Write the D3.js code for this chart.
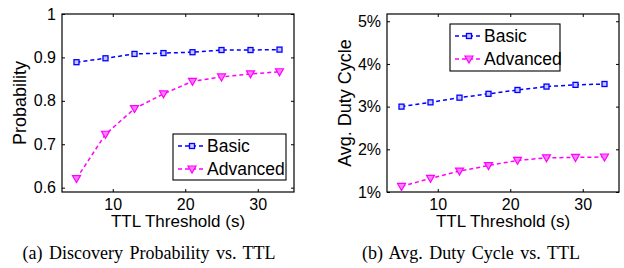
<!DOCTYPE html>
<html>
<head>
<meta charset="utf-8">
<script src="https://cdn.jsdelivr.net/npm/d3@7"></script>
<style>
  body { margin: 0; background: #fff; }
  svg text { font-family: "Liberation Sans", Arial, sans-serif; fill: #000; }
  .caption { font-family: "Liberation Serif", "Times New Roman", serif; word-spacing: 2px; }
</style>
</head>
<body>
<svg width="624" height="268"></svg>
<script>
// TTL thresholds (s)
const ttl = [5, 9, 13, 17, 21, 25, 29, 33];

// (a) discovery probability
const probBasic = [0.889, 0.898, 0.908, 0.910, 0.912, 0.917, 0.917, 0.918];
const probAdvanced = [0.621, 0.723, 0.782, 0.816, 0.845, 0.855, 0.862, 0.867];

// (b) avg duty cycle (%)
const dutyBasic = [3.00, 3.10, 3.21, 3.30, 3.39, 3.47, 3.51, 3.53];
const dutyAdvanced = [1.13, 1.32, 1.49, 1.62, 1.74, 1.80, 1.81, 1.82];

const xTicks = [10, 20, 30];
const probTicks = [0.6, 0.7, 0.8, 0.9, 1];
const dutyTicks = [1, 2, 3, 4, 5];
const seriesNames = ['Basic', 'Advanced'];

const svg = d3.select('svg');

const panels = [
  {
    left: 62, right: 294, top: 14, bottom: 192,
    yDomain: [0.59, 1.0], yTicks: probTicks, yFmt: d => d === 1 ? '1' : d3.format('.1f')(d),
    yLabel: 'Probability', yLabelX: 20,
    series: [probBasic, probAdvanced],
    legend: {x: 173, y: 134, w: 113, h: 46},
    caption: '(a) Discovery Probability vs. TTL', capX: 149
  },
  {
    left: 387, right: 619, top: 14, bottom: 192,
    yDomain: [1, 5.17], yTicks: dutyTicks, yFmt: d => d + '%',
    yLabel: 'Avg. Duty Cycle', yLabelX: 345,
    series: [dutyBasic, dutyAdvanced],
    legend: {x: 450, y: 24, w: 110, h: 47},
    caption: '(b) Avg. Duty Cycle vs. TTL', capX: 471
  }
];

const colors = ['#0000ff', '#ff00ff'];

const drawMarker = (sel, i) => {
  if (i === 0) {
    sel.append('rect')
      .attr('x', -2.5).attr('y', -2.5).attr('width', 5).attr('height', 5)
      .attr('fill', '#c8c8ff').attr('stroke', colors[0]).attr('stroke-width', 1.3);
  } else {
    sel.append('path')
      .attr('d', 'M-4,-3L4,-3L0,4Z')
      .attr('fill', '#ff80ff').attr('stroke', colors[1]).attr('stroke-width', 1.2);
  }
};

panels.forEach(p => {
  const x = d3.scaleLinear().domain([3, 35]).range([p.left, p.right]);
  const y = d3.scaleLinear().domain(p.yDomain).range([p.bottom, p.top]);
  const g = svg.append('g');

  // box
  g.append('rect')
    .attr('x', p.left).attr('y', p.top)
    .attr('width', p.right - p.left).attr('height', p.bottom - p.top)
    .attr('fill', 'none').attr('stroke', '#000').attr('stroke-width', 1.2);

  // axes with inward ticks
  const axB = g.append('g').attr('transform', `translate(0,${p.bottom})`)
    .call(d3.axisBottom(x).tickValues(xTicks).tickSize(-3).tickPadding(7));
  const axT = g.append('g').attr('transform', `translate(0,${p.top})`)
    .call(d3.axisTop(x).tickValues(xTicks).tickSize(-3).tickFormat(''));
  const axL = g.append('g').attr('transform', `translate(${p.left},0)`)
    .call(d3.axisLeft(y).tickValues(p.yTicks).tickSize(-3).tickPadding(6).tickFormat(p.yFmt));
  const axR = g.append('g').attr('transform', `translate(${p.right},0)`)
    .call(d3.axisRight(y).tickValues(p.yTicks).tickSize(-3).tickFormat(''));
  [axB, axT, axL, axR].forEach(a => {
    a.select('.domain').remove();
    a.selectAll('line').attr('stroke', '#000');
    a.selectAll('text').style('font-size', '16px').attr('fill', '#000');
  });
  axB.selectAll('text').attr('dy', '0.71em');

  // labels
  g.append('text')
    .attr('x', (p.left + p.right) / 2).attr('y', 227)
    .attr('text-anchor', 'middle').style('font-size', '17px')
    .text('TTL Threshold (s)');
  g.append('text')
    .attr('transform', `translate(${p.yLabelX + 6},${(p.top + p.bottom) / 2}) rotate(-90)`)
    .attr('text-anchor', 'middle').style('font-size', '18px')
    .text(p.yLabel);

  // series
  p.series.forEach((vals, i) => {
    const pts = ttl.map((t, k) => [t, vals[k]]);
    g.append('path')
      .datum(pts)
      .attr('d', d3.line().x(d => x(d[0])).y(d => y(d[1])))
      .attr('fill', 'none').attr('stroke', colors[i])
      .attr('stroke-width', 1.5).attr('stroke-dasharray', '4,3');
    pts.forEach(d => {
      drawMarker(g.append('g').attr('transform', `translate(${x(d[0])},${y(d[1])})`), i);
    });
  });

  // legend
  const L = p.legend;
  g.append('rect')
    .attr('x', L.x).attr('y', L.y).attr('width', L.w).attr('height', L.h)
    .attr('fill', '#fff').attr('stroke', '#000').attr('stroke-width', 1.1);
  seriesNames.forEach((name, i) => {
    const cy = L.y + 12 + i * 23;
    g.append('line')
      .attr('x1', L.x + 5).attr('x2', L.x + 33).attr('y1', cy).attr('y2', cy)
      .attr('stroke', colors[i]).attr('stroke-width', 1.5).attr('stroke-dasharray', '4,3');
    drawMarker(g.append('g').attr('transform', `translate(${L.x + 19},${cy})`), i);
    g.append('text')
      .attr('x', L.x + 34).attr('y', cy + 6)
      .style('font-size', '17.5px')
      .text(name);
  });

  // caption
  svg.append('text').attr('class', 'caption')
    .attr('x', p.capX).attr('y', 259)
    .attr('text-anchor', 'middle').style('font-size', '18px')
    .text(p.caption);
});
</script>
</body>
</html>
